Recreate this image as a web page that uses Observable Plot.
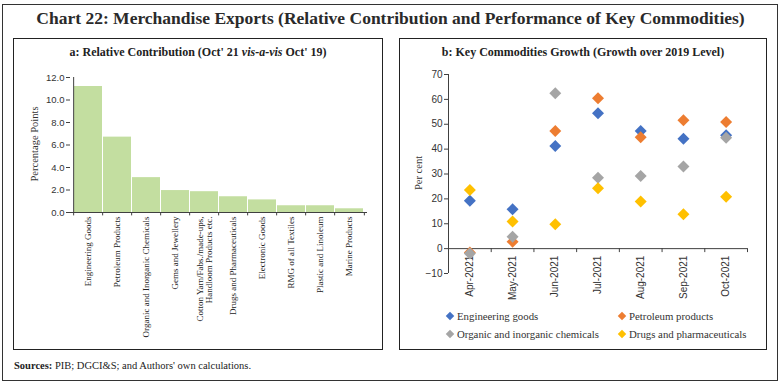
<!DOCTYPE html>
<html>
<head>
<meta charset="utf-8">
<script src="https://cdn.jsdelivr.net/npm/d3@7"></script>
<script src="https://cdn.jsdelivr.net/npm/@observablehq/plot@0.6"></script>
<style>
  body { margin: 0; background: #fff; width: 781px; height: 383px; position: relative; overflow: hidden; font-family: "Liberation Serif", serif; color: #222; }
  .abs { position: absolute; }
  #outer { left: 2px; top: 4px; width: 774px; height: 375px; border: 1px solid #333; }
  .panel { border: 1px solid #222; }
  #title { left: 0; width: 781px; top: 8px; text-align: center; font-size: 17.5px; font-weight: bold; color: #2a2a2a; }
  .sub { text-align: center; font-size: 12px; font-weight: bold; color: #222; }
  #sources { left: 14px; top: 360px; font-size: 10.5px; color: #222; }
  .leg { font-size: 10.8px; color: #333; white-space: nowrap; }
  .dia { display: inline-block; width: 6px; height: 6px; transform: rotate(45deg); margin-right: 4px; vertical-align: 1px; }
  .ylab { font-size: 10.5px; color: #333; white-space: nowrap; transform: translate(-50%, -50%) rotate(-90deg); }
  svg { overflow: visible; }
</style>
</head>
<body>
<div id="outer" class="abs"></div>
<div id="title" class="abs">Chart 22: Merchandise Exports (Relative Contribution and Performance of Key Commodities)</div>
<div class="abs panel" style="left:13px;top:38px;width:368px;height:310px;"></div>
<div class="abs panel" style="left:399px;top:38px;width:366px;height:310px;"></div>
<div class="abs sub" style="left:13px;width:370px;top:45px;">a: Relative Contribution (Oct' 21 <i>vis-a-vis</i> Oct' 19)</div>
<div class="abs sub" style="left:399px;width:368px;top:45px;">b: Key Commodities Growth (Growth over 2019 Level)</div>
<div id="chartA" class="abs" style="left:13px;top:62px;"></div>
<div id="chartB" class="abs" style="left:399px;top:62px;"></div>
<div class="abs ylab" style="left:34px;top:144px;">Percentage Points</div>
<div class="abs ylab" style="left:418px;top:173px;">Per cent</div>
<div id="legend"></div>
<div id="sources" class="abs"><b>Sources:</b> PIB; DGCI&amp;S; and Authors' own calculations.</div>
<script>
// ---------- Panel a data ----------
const commodities = [
  "Engineering Goods",
  "Petroleum Products",
  "Organic and Inorganic Chemicals",
  "Gems and Jewellery",
  "Cotton Yarn/Fabs./made-ups,\nHandloom Products etc.",
  "Drugs and Pharmaceuticals",
  "Electronic Goods",
  "RMG of all Textiles",
  "Plastic and Linoleum",
  "Marine Products"
];
const contribution = [11.2, 6.7, 3.1, 1.95, 1.85, 1.4, 1.12, 0.6, 0.6, 0.33];
const yTicksA = [0, 2, 4, 6, 8, 10, 12];

// ---------- Panel b data ----------
const months = ["Apr-2021", "May-2021", "Jun-2021", "Jul-2021", "Aug-2021", "Sep-2021", "Oct-2021"];
const seriesNames = ["Engineering goods", "Petroleum products", "Organic and inorganic chemicals", "Drugs and pharmaceuticals"];
const seriesColors = ["#4472c4", "#ed7d31", "#a5a5a5", "#ffc000"];
const engineering = [19.2, 15.8, 41.3, 54.4, 47.3, 44.2, 45.6];
const petroleum   = [-1.6, 2.8, 47.3, 60.5, 44.8, 51.6, 50.9];
const organic     = [-2.0, 4.8, 62.5, 28.5, 29.2, 33.0, 44.6];
const drugs       = [23.6, 10.9, 9.8, 24.3, 18.9, 13.8, 20.9];
const yTicksB = [-10, 0, 10, 20, 30, 40, 50, 60, 70];

const sansFont = "'Liberation Sans', Arial, sans-serif";
const serifFont = "'Liberation Serif', serif";

// ---------- Chart A ----------
const wA = 369, hA = 285, mLA = 57, mRA = 15;
const stepA = (wA - mLA - mRA) / commodities.length;
const barData = commodities.map((c, i) => ({c, v: contribution[i]}));
const chartA = Plot.plot({
  width: wA, height: hA,
  marginLeft: mLA, marginRight: mRA, marginTop: 15, marginBottom: 135,
  style: {background: "transparent", overflow: "visible"},
  x: {type: "band", domain: commodities, paddingInner: 0.05, paddingOuter: 0.025, axis: null},
  y: {domain: [0, 12], axis: null},
  marks: [
    Plot.barY(barData, {x: "c", y: "v", fill: "#c3dea0"}),
    Plot.ruleY([0], {stroke: "#404040", strokeWidth: 1}),
    Plot.ruleX([commodities[0]], {dx: -stepA / 2, y1: 0, y2: 12, stroke: "#404040"}),
    Plot.ruleX(commodities, {dx: -stepA / 2, y1: 0, y2: -0.3, stroke: "#404040"}),
    Plot.ruleX([commodities[commodities.length - 1]], {dx: stepA / 2, y1: 0, y2: -0.3, stroke: "#404040"}),
    Plot.axisY({ticks: yTicksA, tickFormat: d => d.toFixed(1), tickSize: 4, tickPadding: 2,
      fontSize: 9.5, fontFamily: sansFont, fill: "#333", stroke: "#404040", label: null}),
    Plot.axisX({tickSize: 0, tickRotate: -90, tickPadding: 4, fontSize: 9, fontFamily: serifFont, fill: "#222", label: null})
  ]
});
document.getElementById("chartA").appendChild(chartA);

// ---------- Chart B ----------
const series = [engineering, petroleum, organic, drugs];
const dots = [];
series.forEach((vals, s) => vals.forEach((v, i) => dots.push({s: seriesNames[s], i, v})));
const chartB = Plot.plot({
  width: 367, height: 240,
  marginLeft: 49, marginRight: 19, marginTop: 12, marginBottom: 29,
  style: {background: "transparent", overflow: "visible"},
  x: {domain: [-0.5, months.length - 0.5], axis: null},
  y: {domain: [-10, 70], axis: null},
  color: {domain: seriesNames, range: seriesColors},
  marks: [
    Plot.ruleX([-0.5], {y1: -10, y2: 70, stroke: "#404040"}),
    Plot.ruleY([0], {stroke: "#404040"}),
    Plot.ruleX(months.map((m, i) => i - 0.5).concat([months.length - 0.5]), {y1: 0, y2: -1.6, stroke: "#404040"}),
    Plot.axisY({ticks: yTicksB, tickSize: 4, tickPadding: 2, fontSize: 10, fontFamily: sansFont, fill: "#333", stroke: "#404040", label: null}),
    Plot.text(months, {x: (d, i) => i, y: () => 0, text: d => d, rotate: -90, textAnchor: "end", dy: 7,
      fontSize: 10, fontFamily: sansFont, fill: "#333"}),
    Plot.dot(dots, {x: "i", y: "v", fill: "s", symbol: "diamond2", r: 5.4})
  ]
});
document.getElementById("chartB").appendChild(chartB);

// ---------- Legend ----------
const legendPos = [[447, 310], [619, 310], [447, 328], [619, 328]];
const legend = document.getElementById("legend");
seriesNames.forEach((name, k) => {
  const d = document.createElement("div");
  d.className = "abs leg";
  d.style.left = legendPos[k][0] + "px";
  d.style.top = legendPos[k][1] + "px";
  d.innerHTML = `<span class="dia" style="background:${seriesColors[k]}"></span>${name}`;
  legend.appendChild(d);
});
</script>
</body>
</html>
